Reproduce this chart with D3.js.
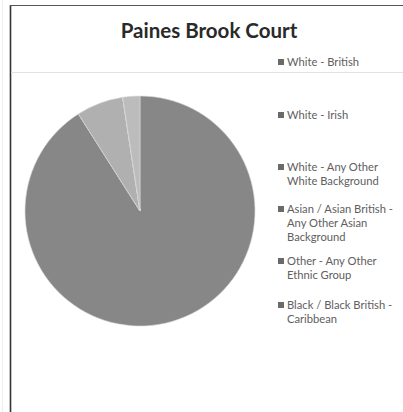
<!DOCTYPE html>
<html>
<head>
<meta charset="utf-8">
<script src="https://cdn.jsdelivr.net/npm/d3@7/dist/d3.min.js"></script>
<style>
  html, body { margin: 0; padding: 0; background: #fff; }
  svg { display: block; }
</style>
</head>
<body>
<svg id="chart" width="403" height="412"></svg>
<script>
// Ethnic group breakdown of residents (percent)
const categories = [
  ["White - British"],
  ["White - Irish"],
  ["White - Any Other", "White Background"],
  ["Asian / Asian British -", "Any Other Asian", "Background"],
  ["Other - Any Other", "Ethnic Group"],
  ["Black / Black British -", "Caribbean"]
];
const values = [91, 0, 6.6, 0, 0, 2.4];
const sliceColors = ["#878787", "#7e7e7e", "#b0b0b0", "#7a7a7a", "#989898", "#bcbcbc"];
const chartTitle = "Paines Brook Court";

const svg = d3.select("#chart");

// frame
svg.append("line").attr("x1", 10.5).attr("x2", 10.5).attr("y1", 5).attr("y2", 412)
  .attr("stroke", "#333").attr("stroke-width", 1.6);
svg.append("line").attr("x1", 10).attr("x2", 403).attr("y1", 5.5).attr("y2", 5.5)
  .attr("stroke", "#555").attr("stroke-width", 1.2);
svg.append("line").attr("x1", 11).attr("x2", 403).attr("y1", 72.5).attr("y2", 72.5)
  .attr("stroke", "#e2e2e2").attr("stroke-width", 1);
svg.append("line").attr("x1", 2.5).attr("x2", 2.5).attr("y1", 0).attr("y2", 412)
  .attr("stroke", "#eeeeee").attr("stroke-width", 1);

// title
svg.append("text")
  .attr("x", 209).attr("y", 38)
  .attr("text-anchor", "middle")
  .attr("font-family", "Lato, 'Open Sans', sans-serif")
  .attr("font-weight", "bold")
  .attr("font-size", 20.5)
  .attr("fill", "#2a2a2a")
  .text(chartTitle);

// pie
const cx = 140, cy = 211, r = 115;
const pie = d3.pie().sort(null).value(d => d);
const arc = d3.arc().innerRadius(0).outerRadius(r);
const g = svg.append("g").attr("transform", `translate(${cx},${cy})`);
g.selectAll("path")
  .data(pie(values))
  .join("path")
  .attr("d", arc)
  .attr("fill", (d, i) => sliceColors[i])
  .attr("stroke", "#d8d8d8")
  .attr("stroke-width", 0.6);

// legend
const legendRows = [66, 119, 171, 213, 265, 309];
const lineH = 14;
const lg = svg.append("g")
  .attr("font-family", "Lato, 'Open Sans', sans-serif")
  .attr("font-size", 11.2)
  .attr("fill", "#606060");
categories.forEach((lines, i) => {
  const y = legendRows[i];
  lg.append("rect")
    .attr("x", 278).attr("y", y - 7)
    .attr("width", 6).attr("height", 6)
    .attr("fill", "#6a6a6a");
  lines.forEach((t, j) => {
    lg.append("text")
      .attr("x", 287)
      .attr("y", y + j * lineH)
      .text(t);
  });
});
</script>
</body>
</html>
